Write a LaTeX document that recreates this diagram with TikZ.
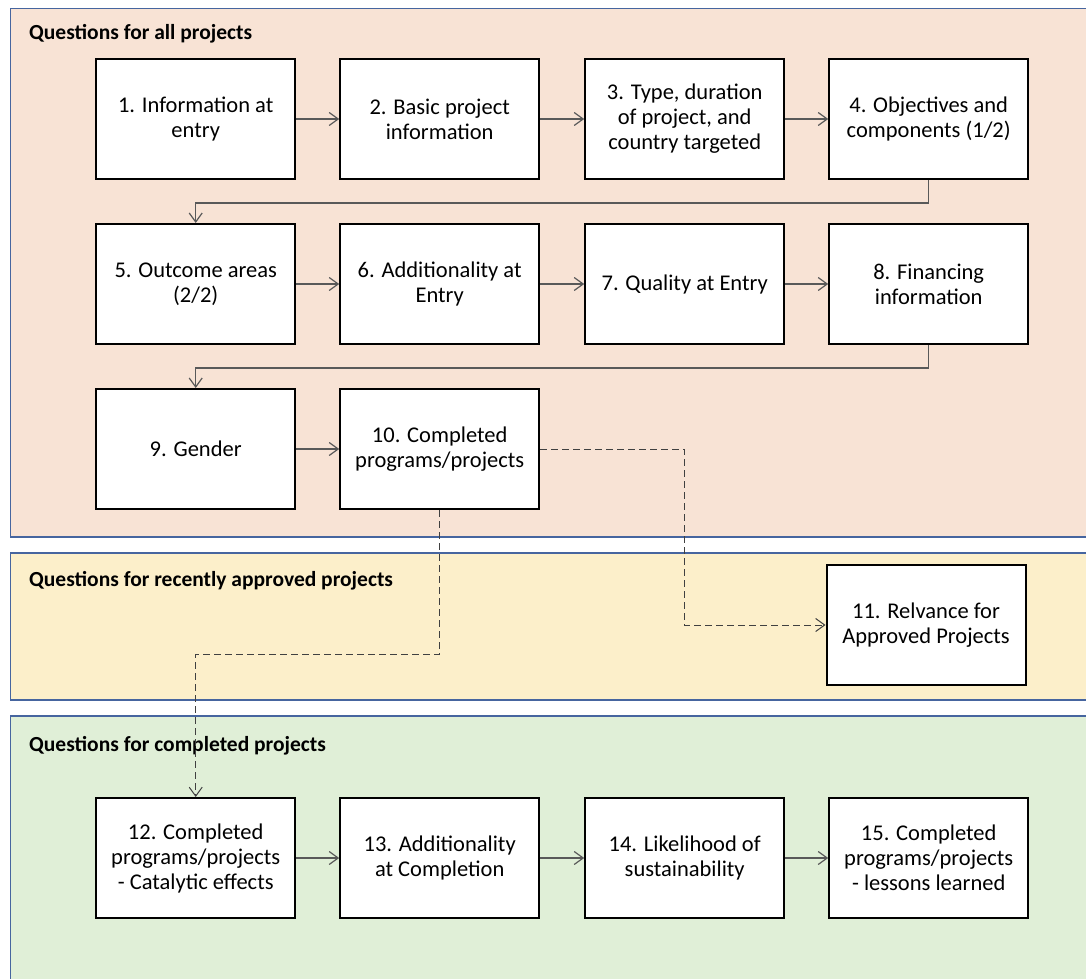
\documentclass[tikz,border=0pt]{standalone}
\usepackage{fontspec}
\setmainfont{Carlito}
\usetikzlibrary{arrows.meta}
\definecolor{panelOrange}{HTML}{F8E3D5}
\definecolor{panelYellow}{HTML}{FCEFCA}
\definecolor{panelGreen}{HTML}{E0EFD7}
\definecolor{panelBorder}{HTML}{46659F}
\definecolor{arrGray}{HTML}{595959}
\definecolor{dashGray}{HTML}{404040}
\begin{document}
\begin{tikzpicture}[x=1pt,y=-1pt,
  panel/.style={draw=panelBorder,line width=1.5pt},
  qbox/.style={draw=black,line width=2pt,fill=white,minimum width=199pt,minimum height=120pt,
    inner sep=0pt,align=center,font=\fontsize{22.5}{25}\selectfont},
  paneltitle/.style={anchor=base west,inner sep=0pt,font=\fontsize{21.5}{25}\selectfont\bfseries},
  arr/.style={draw=arrGray,line width=1.2pt,-{Straight Barb[length=9pt,width=13pt]}},
  dasharr/.style={draw=dashGray,line width=1pt,dash pattern=on 7pt off 4pt,-{Straight Barb[length=9pt,width=13pt]}}]
\useasboundingbox (0,0) rectangle (1086,979);
\clip (0,0) rectangle (1086,979);
% panels
\draw[panel,fill=panelOrange] (10.5,8.5) rectangle (1100,537);
\draw[panel,fill=panelYellow] (10.5,553) rectangle (1100,700);
\draw[panel,fill=panelGreen] (10.5,716) rectangle (1100,1000);
\node[paneltitle] (t1) at (29,40) {Questions for all projects};
\node[paneltitle] (t2) at (29,586) {Questions for recently approved projects};
\node[paneltitle] (t3) at (29,751) {Questions for completed projects};
% row 1
\node[qbox] (b1) at (195.7,119) {1. Information at\\entry};
\node[qbox] (b2) at (439.7,119) {2. Basic project\\information};
\node[qbox] (b3) at (684.7,119) {3. Type, duration\\of project, and\\country targeted};
\node[qbox] (b4) at (928.7,119) {4. Objectives and\\components (1/2)};
% row 2
\node[qbox] (b5) at (195.7,284) {5. Outcome areas\\(2/2)};
\node[qbox] (b6) at (439.7,284) {6. Additionality at\\Entry};
\node[qbox] (b7) at (684.7,284) {7. Quality at Entry};
\node[qbox] (b8) at (928.7,284) {8. Financing\\information};
% row 3
\node[qbox] (b9) at (195.7,449) {9. Gender};
\node[qbox] (b10) at (439.7,449) {10. Completed\\programs/projects};
% approved
\node[qbox] (b11) at (926,625) {11. Relvance for\\Approved Projects};
% row 4
\node[qbox] (b12) at (195.7,858) {12. Completed\\programs/projects\\- Catalytic effects};
\node[qbox] (b13) at (439.7,858) {13. Additionality\\at Completion};
\node[qbox] (b14) at (684.7,858) {14. Likelihood of\\sustainability};
\node[qbox] (b15) at (928.7,858) {15. Completed\\programs/projects\\- lessons learned};
% connectors
\draw[arr] (b1) -- (b2);
\draw[arr] (b2) -- (b3);
\draw[arr] (b3) -- (b4);
\draw[arr] (b4.south) -- ++(0,23) -| (b5.north);
\draw[arr] (b5) -- (b6);
\draw[arr] (b6) -- (b7);
\draw[arr] (b7) -- (b8);
\draw[arr] (b8.south) -- ++(0,23) -| (b9.north);
\draw[arr] (b9) -- (b10);
\draw[arr] (b12) -- (b13);
\draw[arr] (b13) -- (b14);
\draw[arr] (b14) -- (b15);
% dashed
\coordinate (dx) at (684,0);
\draw[dasharr] (b10.east) -| (dx |- b11) -- (b11.west);
\draw[dasharr] (b10.south) -- ++(0,144) -| (b12.north);
\end{tikzpicture}
\end{document}
